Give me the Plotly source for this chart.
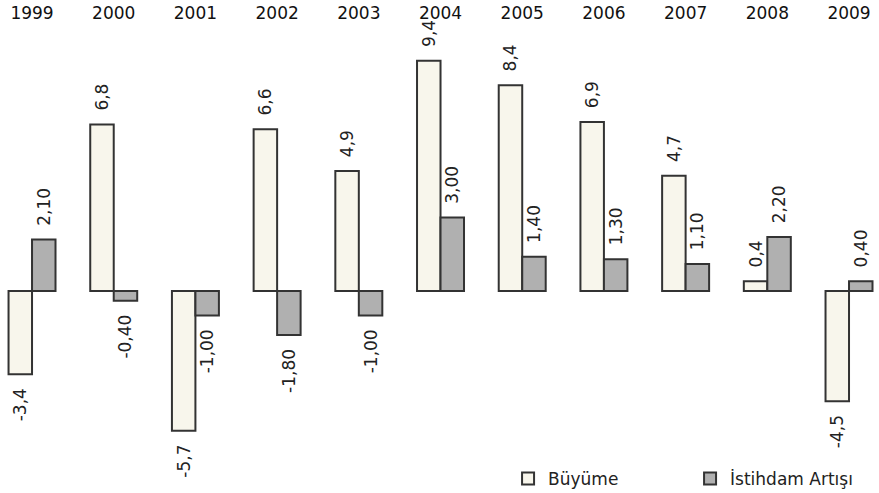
import plotly.graph_objects as go

years = ["1999", "2000", "2001", "2002", "2003", "2004", "2005", "2006", "2007", "2008", "2009"]
buyume = [-3.4, 6.8, -5.7, 6.6, 4.9, 9.4, 8.4, 6.9, 4.7, 0.4, -4.5]
istihdam = [2.10, -0.40, -1.00, -1.80, -1.00, 3.00, 1.40, 1.30, 1.10, 2.20, 0.40]

NB = "\u00a0"

def lab(v, d):
    s = f"{v:.{d}f}".replace(".", ",")
    return NB * 2 + s if v >= 0 else s + NB * 2

x = list(range(len(years)))
font = "DejaVu Sans"

fig = go.Figure()
fig.add_trace(go.Bar(
    x=x, y=buyume, name="Büyüme",
    marker=dict(color="#F8F6EC", line=dict(color="#333333", width=2)),
    text=[lab(v, 1) for v in buyume], textposition="outside", textangle=-90,
    constraintext="none",
    textfont=dict(family=font, size=17, color="#222222"), cliponaxis=False,
))
fig.add_trace(go.Bar(
    x=x, y=istihdam, name="İstihdam Artışı",
    marker=dict(color="#B0B0B0", line=dict(color="#333333", width=2)),
    text=[lab(v, 2) for v in istihdam], textposition="outside", textangle=-90,
    constraintext="none",
    textfont=dict(family=font, size=17, color="#222222"), cliponaxis=False,
))

fig.update_layout(
    width=879, height=493,
    margin=dict(l=0, r=0, t=23, b=0, autoexpand=False),
    paper_bgcolor="white", plot_bgcolor="white",
    barmode="group", bargap=0.425, bargroupgap=0,
    font=dict(family=font, size=17, color="#222222"),
    showlegend=True,
    legend=dict(orientation="h", x=0.578, xanchor="left", y=0.03, yanchor="middle",
                entrywidth=137, entrywidthmode="pixels",
                font=dict(family=font, size=17, color="#222222"),
                bgcolor="rgba(0,0,0,0)"),
    uniformtext=dict(mode=False),
)
fig.update_xaxes(side="top", tickmode="array", tickvals=x, ticktext=years,
                 range=[-0.392, 10.367], showgrid=False, zeroline=False, showline=False,
                 ticks="", tickfont=dict(family=font, size=17, color="#111111"))
fig.update_yaxes(range=[-8.245, 10.94], showgrid=False, zeroline=False, showline=False,
                 showticklabels=False, ticks="")

fig.write_html("out.html")
